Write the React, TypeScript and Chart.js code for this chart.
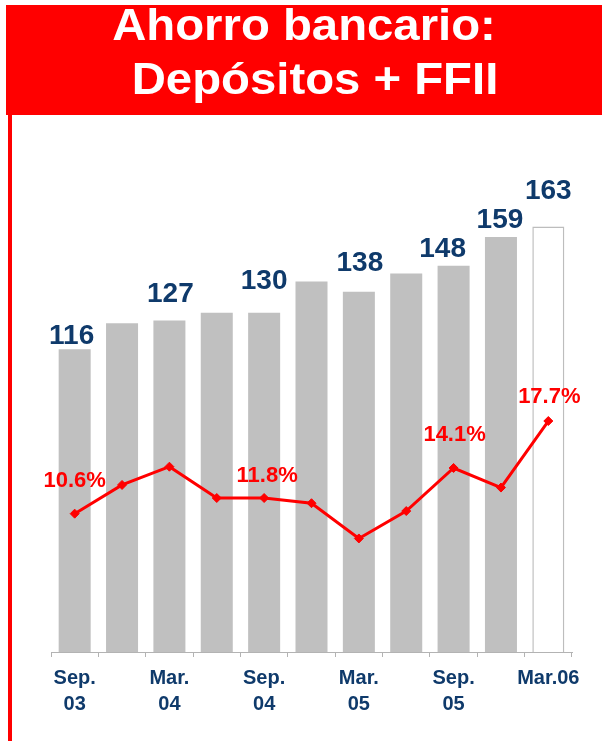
import React, { useEffect, useRef } from "react";
import { Chart, registerables } from "chart.js";

Chart.register(...registerables);

// ---- data ----
const categories = ["Sep.03", "Dic.03", "Mar.04", "Jun.04", "Sep.04", "Dic.04", "Mar.05", "Jun.05", "Sep.05", "Dic.05", "Mar.06"];
const tickLabels: (string | string[])[] = [["Sep.", "03"], "", ["Mar.", "04"], "", ["Sep.", "04"], "", ["Mar.", "05"], "", ["Sep.", "05"], "", "Mar.06"];
const savings = [116, 126, 127, 130, 130, 142, 138, 145, 148, 159, 163];
const growth = [10.6, 12.8, 14.2, 11.8, 11.8, 11.4, 8.7, 10.8, 14.1, 12.6, 17.7];
const labeledBars = [0, 2, 4, 6, 8, 9, 10];
const labeledPoints = [0, 4, 8, 10];

// ---- styling ----
const FONT = '"Liberation Sans", Arial, Helvetica, sans-serif';
const RED = "#ff0000";
const NAVY = "#0f3a6b";
const GREY = "#c0c0c0";
const AXIS = "#b3b3b3";

// label nudges (pixels above the bar top / point, horizontal shift)
const barLabelNudge: Record<number, { dx: number; dy: number }> = {
  0: { dx: -3, dy: 5 },
  2: { dx: 1, dy: 19 },
  4: { dx: 0, dy: 24 },
  6: { dx: 1, dy: 21 },
  8: { dx: -11, dy: 9 },
  9: { dx: -1, dy: 9 },
  10: { dx: 0, dy: 28 },
};
const pointLabelNudge: Record<number, { dx: number; dy: number }> = {
  0: { dx: 0, dy: 27 },
  4: { dx: 3, dy: 16 },
  8: { dx: 1, dy: 27 },
  10: { dx: 1, dy: 18 },
};

const valueLabels = {
  id: "valueLabels",
  afterDatasetsDraw(chart: any) {
    const ctx = chart.ctx as CanvasRenderingContext2D;
    const lineMeta = chart.getDatasetMeta(0);
    const barMeta = chart.getDatasetMeta(1);
    ctx.save();
    ctx.textAlign = "center";
    ctx.textBaseline = "alphabetic";
    ctx.font = `bold 28px ${FONT}`;
    ctx.fillStyle = NAVY;
    labeledBars.forEach((i) => {
      const el = barMeta.data[i];
      const n = barLabelNudge[i] || { dx: 0, dy: 10 };
      ctx.fillText(String(savings[i]), el.x + n.dx, el.y - n.dy);
    });
    ctx.font = `bold 22px ${FONT}`;
    ctx.fillStyle = RED;
    labeledPoints.forEach((i) => {
      const el = lineMeta.data[i];
      const n = pointLabelNudge[i] || { dx: 0, dy: 18 };
      ctx.fillText(growth[i].toFixed(1) + "%", el.x + n.dx, el.y - n.dy);
    });
    ctx.restore();
  },
};

export default function App() {
  const ref = useRef<HTMLCanvasElement>(null);

  useEffect(() => {
    const canvas = ref.current;
    if (!canvas) return;
    const last = savings.length - 1;
    const chart = new Chart(canvas, {
      type: "bar",
      data: {
        labels: categories,
        datasets: [
          {
            type: "line",
            label: "Crecimiento",
            data: growth,
            yAxisID: "y1",
            borderColor: RED,
            backgroundColor: RED,
            borderWidth: 3,
            tension: 0,
            pointStyle: "rectRot",
            pointRadius: 4.5,
            pointBackgroundColor: RED,
            pointBorderColor: RED,
            pointBorderWidth: 1,
            order: 0,
          } as any,
          {
            type: "bar",
            label: "Ahorro",
            data: savings,
            yAxisID: "y",
            backgroundColor: savings.map((_, i) => (i === last ? "#ffffff" : GREY)),
            borderColor: savings.map((_, i) => (i === last ? "#bdbdbd" : GREY)),
            borderWidth: savings.map((_, i) => (i === last ? 1.5 : 0)),
            barPercentage: 0.676,
            categoryPercentage: 1,
            order: 1,
          } as any,
        ],
      },
      options: {
        animation: false,
        responsive: false,
        maintainAspectRatio: false,
        layout: { padding: { top: 130, left: 51, right: 30, bottom: 0 } },
        plugins: {
          legend: { display: false },
          tooltip: { enabled: false },
          title: { display: false },
        },
        scales: {
          x: {
            offset: true,
            grid: {
              offset: true,
              drawOnChartArea: false,
              drawTicks: true,
              tickLength: 5,
              color: AXIS,
              lineWidth: 1,
            },
            border: { display: true, color: AXIS, width: 1 },
            ticks: {
              autoSkip: false,
              maxRotation: 0,
              minRotation: 0,
              padding: 8,
              color: NAVY,
              font: { family: FONT, weight: "bold", size: 20, lineHeight: 1.33 },
              callback: (_v: any, i: number) => tickLabels[i],
            },
            afterFit: (scale: any) => {
              scale.height = 89;
            },
          } as any,
          y: { display: false, min: 0, max: 200 },
          y1: { display: false, min: 0, max: 40 },
        },
      },
      plugins: [valueLabels],
    });
    return () => chart.destroy();
  }, []);

  const lineStyle: React.CSSProperties = {
    position: "absolute",
    left: 6,
    width: 596,
    height: 55,
    lineHeight: "55px",
    fontSize: 44,
    fontWeight: "bold",
    fontFamily: FONT,
    color: "#ffffff",
    textAlign: "center",
    whiteSpace: "nowrap",
    transform: "scaleX(1.075)",
    transformOrigin: "center",
  };

  return (
    <div style={{ position: "fixed", left: 0, top: 0, width: 602, height: 741, background: "#ffffff", overflow: "hidden" }}>
      <canvas ref={ref} width={602} height={741} style={{ position: "absolute", left: 0, top: 0, width: 602, height: 741, display: "block" }} />
      <div style={{ position: "absolute", left: 6, top: 5, width: 596, height: 110, background: RED }} />
      <div style={{ position: "absolute", left: 8, top: 115, width: 4, height: 626, background: RED }} />
      <div style={{ ...lineStyle, top: -3 }}>Ahorro bancario:</div>
      <div style={{ ...lineStyle, top: 51, left: 17 }}>Depósitos + FFII</div>
    </div>
  );
}
